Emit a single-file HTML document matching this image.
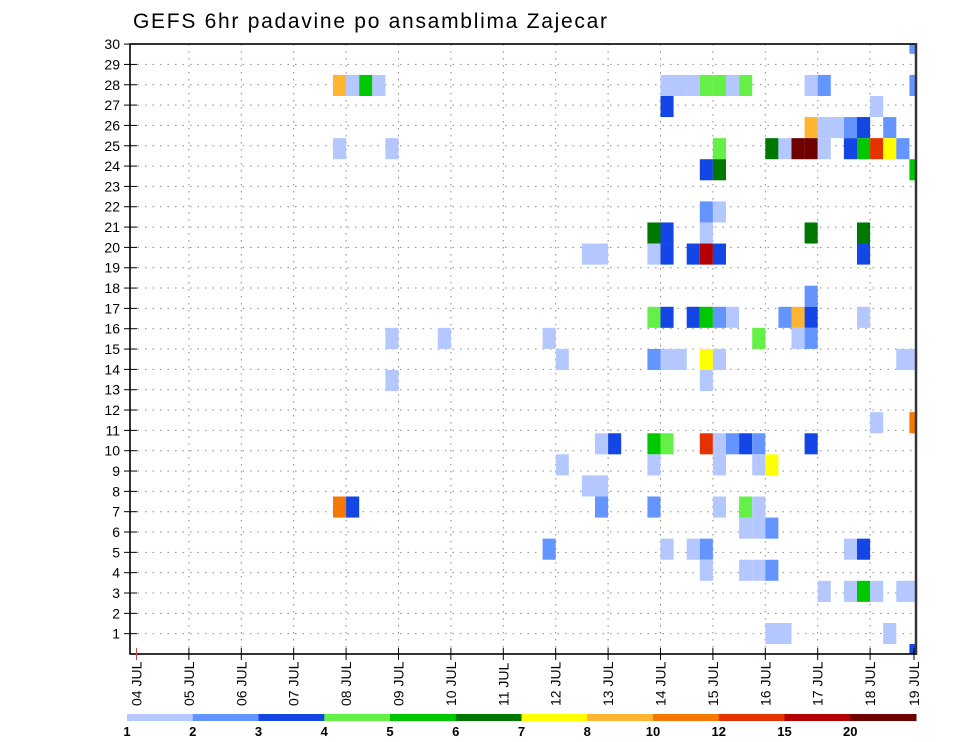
<!DOCTYPE html>
<html><head><meta charset="utf-8">
<style>
html,body{margin:0;padding:0;background:#fff;}
svg{display:block;font-family:"Liberation Sans",sans-serif;}
</style></head>
<body>
<svg id="chart" width="960" height="742" viewBox="0 0 960 742" xmlns="http://www.w3.org/2000/svg">
<defs><clipPath id="plotclip"><rect x="130" y="44" width="786" height="610"/></clipPath></defs>
<text x="133" y="28" font-size="21" fill="#000" textLength="474" lengthAdjust="spacing">GEFS 6hr padavine po ansamblima Zajecar</text>
<g id="grid"></g>
<g id="cells" clip-path="url(#plotclip)"></g>
<g id="axes"></g>
<g id="legend"></g>
</svg>
<script>
const dayLabels = ["04 JUL","05 JUL","06 JUL","07 JUL","08 JUL","09 JUL","10 JUL","11 JUL","12 JUL","13 JUL","14 JUL","15 JUL","16 JUL","17 JUL","18 JUL","19 JUL"];
const yTickLabels = [1,2,3,4,5,6,7,8,9,10,11,12,13,14,15,16,17,18,19,20,21,22,23,24,25,26,27,28,29,30];
const levelLabels = ["1","2","3","4","5","6","7","8","10","12","15","20"];
const levelColors = ["#b4c8ff","#6495ff","#1446e6","#64f046","#00c800","#007800","#ffff00","#ffb432","#f57800","#e63200","#b40000","#6e0000"];
// each cell: time slot (6h steps from 04 JUL 00Z), ensemble member index, precip class
const cellSlot =   [59, 15,16,17,18,40,41,42,43,44,45,46,51,52,59, 40,56, 51,52,53,54,55,57, 15,19,44,48,49,50,51,52,54,55,56,57,58, 43,44,59, 43,44, 39,40,43,51,55, 34,35,39,40,42,43,44,55, 51, 39,40,42,43,44,45,49,50,51,55, 19,23,31,47,50,51, 32,39,40,41,43,44,58,59, 19,43, 56,59, 35,36,39,40,43,44,45,46,47,51, 32,39,44,47,48, 34,35, 15,16,35,39,44,46,47, 46,47,48, 31,40,42,43,54,55, 43,46,47,48, 52,54,55,56,58,59, 48,49,57, 59];
const cellMember = [29, 27,27,27,27,27,27,27,27,27,27,27,27,27,27, 26,26, 25,25,25,25,25,25, 24,24,24,24,24,24,24,24,24,24,24,24,24, 23,23,23, 21,21, 20,20,20,20,20, 19,19,19,19,19,19,19,19, 17, 16,16,16,16,16,16,16,16,16,16, 15,15,15,15,15,15, 14,14,14,14,14,14,14,14, 13,13, 11,11, 10,10,10,10,10,10,10,10,10,10, 9,9,9,9,9, 8,8, 7,7,7,7,7,7,7, 6,6,6, 5,5,5,5,5,5, 4,4,4,4, 3,3,3,3,3,3, 1,1,1, 0];
const cellLevel =  [2, 8,1,5,1,1,1,1,4,4,1,4,1,2,2, 3,1, 8,1,1,2,3,2, 1,1,4,6,1,12,12,1,3,5,10,7,2, 3,6,5, 2,1, 6,3,1,6,6, 1,1,1,3,3,11,3,3, 2, 4,3,3,5,2,1,2,8,3,1, 1,1,1,4,1,2, 1,2,1,1,7,1,1,1, 1,1, 1,9, 1,3,5,4,10,1,2,3,2,3, 1,1,1,1,7, 1,1, 9,3,2,2,1,4,1, 1,1,2, 2,1,1,2,1,3, 1,1,1,2, 1,1,5,1,1,1, 1,1,1, 3];

const NS="http://www.w3.org/2000/svg";
const X0=136.5, DAY=52.4, SLOT=DAY/4;
const xDay = d => X0 + d*DAY;
const xSlot = s => X0 + s*SLOT;
const yLabel = v => 654 - v*20.33;
const CELLH = 21.08;
const yMember = m => 654.6 - m*CELLH;
function mk(tag, attrs, parent){const e=document.createElementNS(NS,tag);for(const k in attrs)e.setAttribute(k,attrs[k]);parent.appendChild(e);return e;}

const grid=document.getElementById('grid');
yTickLabels.forEach(v=>{
  const l=mk('line',{x1:130,x2:916,y1:yLabel(v),y2:yLabel(v),stroke:'#888','stroke-width':1,'stroke-dasharray':'1.5,6'},grid);
  
  
});
dayLabels.forEach((d,i)=>{
  if(i===0||i===dayLabels.length-1) return;
  const l=mk('line',{x1:xDay(i),x2:xDay(i),y1:44,y2:654,stroke:'#888','stroke-width':1,'stroke-dasharray':'1.5,5.5'},grid);
  
  
});

const cells=document.getElementById('cells');
for(let i=0;i<cellSlot.length;i++){
  const r=mk('rect',{x:xSlot(cellSlot[i]),y:yMember(cellMember[i])-CELLH/2,width:SLOT,height:CELLH,fill:levelColors[cellLevel[i]-1]},cells);
  
  
}

const axes=document.getElementById('axes');
const frame=mk('rect',{x:130,y:44,width:786,height:610,fill:'none',stroke:'#000','stroke-width':1.6},axes);


mk('line',{x1:916,x2:916,y1:43,y2:655,stroke:'#333','stroke-width':2.5},axes);
yTickLabels.forEach(v=>{
  mk('line',{x1:124,x2:137,y1:yLabel(v),y2:yLabel(v),stroke:'#000','stroke-width':1},axes);
  const t=mk('text',{x:120,y:yLabel(v)+5,'text-anchor':'end','font-size':14,fill:'#000'},axes);
  t.textContent=v;
  
  
});
dayLabels.forEach((d,i)=>{
  let x = i===dayLabels.length-1 ? 914 : xDay(i);
  mk('line',{x1:x,x2:x,y1:648,y2:660,stroke:i===0?'#c44':'#000','stroke-width':1},axes);
  const t=mk('text',{x:0,y:0,'font-size':14,fill:'#000',transform:`translate(${x+5},706) rotate(-90)`},axes);
  t.textContent=d;
  
  
});

const legend=document.getElementById('legend');
const LX=127, LW=65.75;
levelColors.forEach((c,i)=>{
  const r=mk('rect',{x:LX+i*LW,y:714,width:LW+0.5,height:7,fill:c},legend);
  
  
});
levelLabels.forEach((l,i)=>{
  const t=mk('text',{x:LX+i*LW,y:736,'text-anchor':'middle','font-size':13,'font-weight':'bold',fill:'#000'},legend);
  t.textContent=l;
  
  
});
</script>
</body></html>
